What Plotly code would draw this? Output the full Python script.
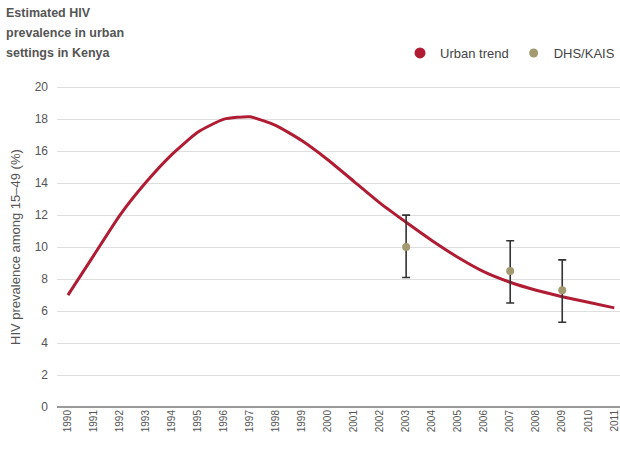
import plotly.graph_objects as go

years = list(range(1990, 2012))
urban_trend = [7.0, 9.5, 12.0, 14.05, 15.8, 17.2, 18.0, 18.15, 17.6, 16.65, 15.45,
               14.1, 12.75, 11.55, 10.4, 9.35, 8.45, 7.8, 7.3, 6.9, 6.55, 6.2]
survey_years = [2003, 2007, 2009]
survey_values = [10.0, 8.5, 7.3]
survey_upper = [12.0, 10.4, 9.2]
survey_lower = [8.1, 6.5, 5.3]
y_ticks = list(range(0, 21, 2))
title_lines = ["Estimated HIV", "prevalence in urban", "settings in Kenya"]

RED = "#b01c33"
TAN = "#a49a70"
TXT = "#555555"
FONT = "Liberation Sans, Arial, sans-serif"

L, R, T, B = 57, 0, 84, 43
PW, PH = 620 - L - R, 450 - T - B

fig = go.Figure()
fig.add_trace(go.Scatter(
    x=years, y=urban_trend, mode="lines",
    line=dict(color=RED, width=3, shape="spline", smoothing=0.5),
    showlegend=False, hoverinfo="skip"))
fig.add_trace(go.Scatter(
    x=survey_years, y=survey_values, mode="markers",
    marker=dict(color=TAN, size=8),
    error_y=dict(type="data", symmetric=False,
                 array=[u - v for u, v in zip(survey_upper, survey_values)],
                 arrayminus=[v - l for v, l in zip(survey_values, survey_lower)],
                 color="#333333", thickness=1.6, width=4),
    showlegend=False))
# legend entries with circle symbols
fig.add_trace(go.Scatter(x=[None], y=[None], mode="markers", name="Urban trend",
                         marker=dict(color=RED, size=11)))
fig.add_trace(go.Scatter(x=[None], y=[None], mode="markers", name="DHS/KAIS",
                         marker=dict(color=TAN, size=9)))

annotations = []
for i, line in enumerate(title_lines):
    annotations.append(dict(
        text="<b>" + line + "</b>", xref="paper", yref="paper",
        x=-(L - 4) / PW, y=1 + (T - 13 - 20 * i) / PH,
        xanchor="left", yanchor="middle", align="left", showarrow=False,
        font=dict(family=FONT, size=12.5, color=TXT)))
annotations.append(dict(
    text="HIV prevalence among 15–49 (%)", textangle=-90,
    xref="paper", yref="paper", x=-(L - 15) / PW, y=1 - (247 - T) / PH,
    xanchor="center", yanchor="middle", showarrow=False,
    font=dict(family=FONT, size=13, color=TXT)))

fig.update_layout(
    width=620, height=450,
    margin=dict(l=L, r=R, t=T, b=B, autoexpand=False),
    paper_bgcolor="white", plot_bgcolor="white",
    font=dict(family=FONT, color=TXT, size=11),
    legend=dict(orientation="h", xref="container", yref="container",
                x=1, xanchor="right", y=1 - 53 / 450, yanchor="middle",
                font=dict(family=FONT, size=13, color="#444444"),
                bgcolor="rgba(0,0,0,0)"),
    xaxis=dict(range=[1989.58, 2011.22], tickmode="array", tickvals=years,
               ticktext=[str(y) for y in years], tickangle=-90,
               tickfont=dict(family=FONT, size=10, color=TXT), showgrid=False,
               zeroline=False, showline=False, ticks="",
               ticklabeloverflow="allow"),
    yaxis=dict(range=[0, 20.2], tickmode="array", tickvals=y_ticks,
               tickfont=dict(family=FONT, size=12, color=TXT), showgrid=True,
               gridcolor="#dedede", gridwidth=1, zeroline=True,
               zerolinecolor="#9a9a9a", zerolinewidth=1.5,
               showline=False, ticks="", ticklabelstandoff=8),
    annotations=annotations,
)

fig.write_html("out.html")
